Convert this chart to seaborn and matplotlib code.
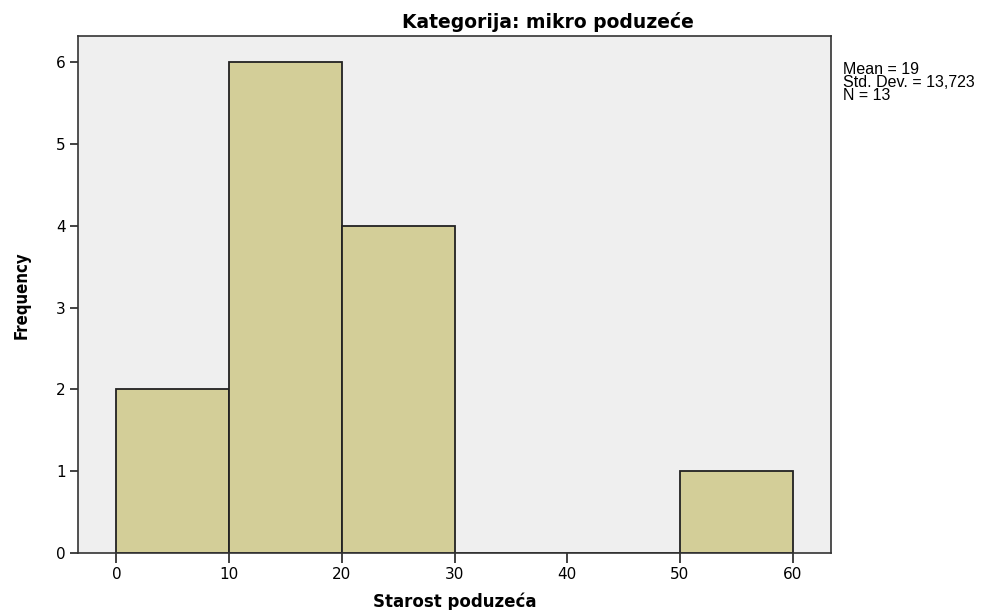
import matplotlib
matplotlib.use("Agg")
import matplotlib.pyplot as plt
import seaborn as sns
import numpy as np
import pandas as pd

# Data
bin_edges = [0, 10, 20, 30, 40, 50, 60]
bin_centers = [5, 15, 25, 35, 45, 55]
counts = [2, 6, 4, 0, 0, 1]
x_ticks = [0, 10, 20, 30, 40, 50, 60]
y_ticks = [0, 1, 2, 3, 4, 5, 6]
title = "Kategorija: mikro poduzeće"
xlabel = "Starost poduzeća"
ylabel = "Frequency"
stats_text = "Mean = 19\nStd. Dev. = 13,723\nN = 13"

df = pd.DataFrame({"age": bin_centers, "count": counts})

sns.set_style("white")
plt.rcParams['font.family'] = ['DejaVu Sans']

fig = plt.figure(figsize=(10.06, 6.10), dpi=100)
ax = fig.add_axes([78/1006, 1-553/610, (831-78)/1006, (553-36)/610])
ax.set_facecolor("#EFEFEF")

sns.histplot(data=df, x="age", weights="count", bins=bin_edges, ax=ax,
             color="#D3CE98", alpha=1, edgecolor="#222222", linewidth=1.3)

ax.set_xlim(-3.4, 63.4)
ax.set_ylim(0, 6.32)
ax.set_xticks(x_ticks)
ax.set_yticks(y_ticks)
ax.tick_params(axis="both", direction="out", length=6, width=1.2, colors="#222222",
               labelsize=11, labelcolor="black", pad=3, bottom=True, left=True)
ax.tick_params(axis="x", length=7)
for s in ax.spines.values():
    s.set_visible(True)
    s.set_color("#333333")
    s.set_linewidth(1.2)

ax.set_xlabel("")
ax.set_ylabel("")
fig.text(455/1006, 1-602/610, xlabel, ha="center", va="center",
         fontsize=12, fontweight="bold", color="black")
fig.text(22/1006, 1-295/610, ylabel, ha="center", va="center", rotation=90,
         fontsize=12, fontweight="bold", fontstretch="condensed",
         family="Liberation Sans Narrow", color="black")
fig.text(548/1006, 1-22/610, title, ha="center", va="center",
         fontsize=13.5, fontweight="bold", color="black")
fig.text(843/1006, 1-62/610, stats_text, ha="left", va="top",
         fontsize=11.5, linespacing=0.85, family="Liberation Sans", color="black")

fig.savefig("out.png", dpi=100)
